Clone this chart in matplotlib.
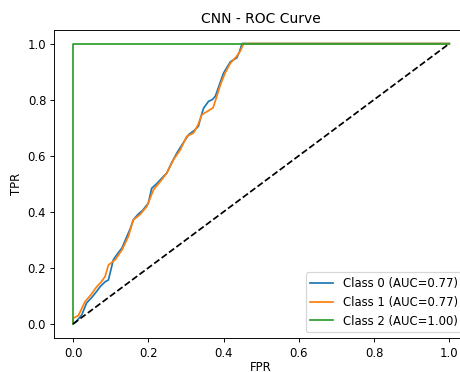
import matplotlib
matplotlib.use("Agg")
import matplotlib.pyplot as plt

# ROC points per class (fpr, tpr)
fpr0 = [0.0, 0.008, 0.023, 0.036, 0.05, 0.062, 0.072, 0.085, 0.094, 0.100,
        0.107, 0.118, 0.130, 0.143, 0.152, 0.160, 0.172, 0.185, 0.200, 0.209,
        0.222, 0.236, 0.249, 0.262, 0.276, 0.290, 0.307, 0.322, 0.333, 0.340,
        0.347, 0.360, 0.370, 0.378, 0.388, 0.400, 0.418, 0.435, 0.442, 0.449, 1.0]
tpr0 = [0.0, 0.008, 0.032, 0.075, 0.095, 0.115, 0.133, 0.150, 0.157, 0.19,
        0.229, 0.25, 0.271, 0.312, 0.34, 0.371, 0.39, 0.405, 0.431, 0.484,
        0.50, 0.52, 0.538, 0.575, 0.61, 0.64, 0.675, 0.69, 0.705, 0.74,
        0.77, 0.794, 0.80, 0.812, 0.85, 0.895, 0.935, 0.949, 0.97, 1.0, 1.0]

fpr1 = [0.0, 0.0, 0.014, 0.032, 0.048, 0.063, 0.075, 0.085, 0.094, 0.112,
        0.13, 0.147, 0.16, 0.178, 0.196, 0.214, 0.230, 0.249, 0.267, 0.285,
        0.302, 0.32, 0.332, 0.342, 0.364, 0.372, 0.382, 0.392, 0.404, 0.418,
        0.435, 0.445, 0.453, 1.0]
tpr1 = [0.0, 0.02, 0.03, 0.08, 0.105, 0.133, 0.15, 0.169, 0.21, 0.229,
        0.264, 0.312, 0.371, 0.39, 0.419, 0.479, 0.505, 0.538, 0.586, 0.621,
        0.669, 0.681, 0.71, 0.746, 0.764, 0.771, 0.812, 0.855, 0.895, 0.93,
        0.955, 0.975, 1.0, 1.0]

fpr2 = [0.0, 0.0, 1.0]
tpr2 = [0.0, 1.0, 1.0]

aucs = [0.77, 0.77, 1.00]
curves = [(fpr0, tpr0), (fpr1, tpr1), (fpr2, tpr2)]

dpi = 250 / 3
fig = plt.figure(figsize=(460.5 / dpi, 372.5 / dpi), dpi=dpi)
ax = fig.add_axes([0.1178, 0.0914, 0.899, 0.828])

for i, (fpr, tpr) in enumerate(curves):
    ax.plot(fpr, tpr, label=f"Class {i} (AUC={aucs[i]:.2f})")
ax.plot([0, 1], [0, 1], "k--")

ax.set_xlabel("FPR", labelpad=1.5)
ax.set_ylabel("TPR")
ax.set_title("CNN - ROC Curve")
ax.legend(loc="lower right")

fig.savefig("out.png", dpi=dpi)
